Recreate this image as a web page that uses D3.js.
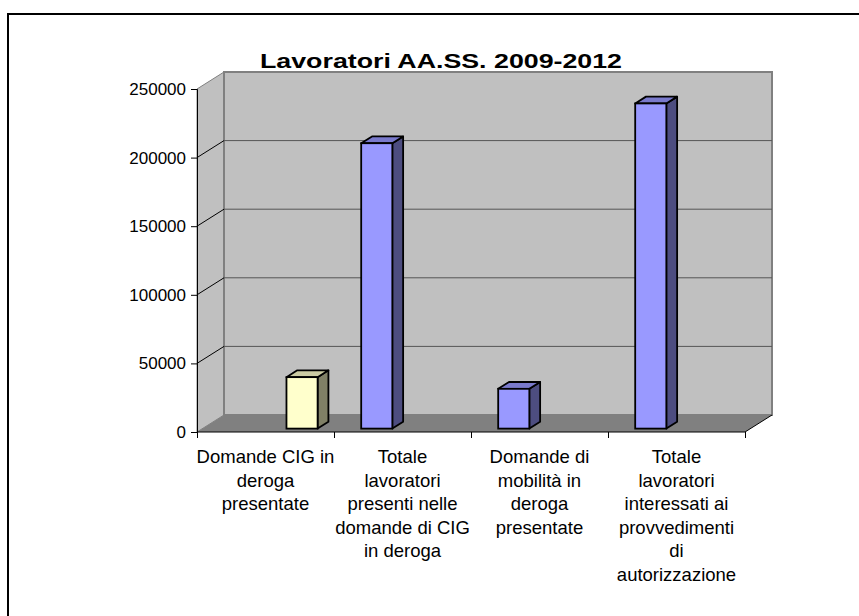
<!DOCTYPE html>
<html>
<head>
<meta charset="utf-8">
<script src="https://cdn.jsdelivr.net/npm/d3@7"></script>
<style>
  body { margin: 0; background: #fff; }
  text { font-family: "Liberation Sans", Arial, sans-serif; }
</style>
</head>
<body>
<div id="chart"></div>
<script>
// chart data
var categories = ["cig", "totCig", "mob", "totAut"];
var catLabels = [
    ["Domande CIG in", "deroga", "presentate"],
    ["Totale", "lavoratori", "presenti nelle", "domande di CIG", "in deroga"],
    ["Domande di", "mobilità in", "deroga", "presentate"],
    ["Totale", "lavoratori", "interessati ai", "provvedimenti", "di", "autorizzazione"]
];
var seriesNames = ["blu", "giallo"];
var bluValues = [null, 208000, 29000, 237000];
var gialloValues = [37500, null, null, null];
var yTicks = [0, 50000, 100000, 150000, 200000, 250000];
var title = "Lavoratori AA.SS. 2009-2012";

var svgWidth = 859, svgHeight = 616;

// 3d look: how far the back wall sits from the front
var depth = { dx: 27, dy: -17 };
var plot = { left: 197, right: 745, top: 89, bottom: 432 };

var svg = d3.select("#chart")
    .append("svg")
    .attr("width", svgWidth)
    .attr("height", svgHeight);

// outer frame (only top and left show in the picture)
svg.append("rect")
    .attr("x", 8).attr("y", 14)
    .attr("width", 900).attr("height", 700)
    .attr("fill", "none")
    .attr("stroke", "#000")
    .attr("stroke-width", 2);

var xScale = d3.scaleBand()
    .domain(categories)
    .range([plot.left, plot.right]);

var inner = d3.scaleBand()
    .domain(seriesNames)
    .range([0, xScale.bandwidth()])
    .paddingInner(0.5)
    .paddingOuter(0.35);

var yScale = d3.scaleLinear()
    .domain([0, 250000])
    .range([plot.bottom, plot.top]);

var y0 = yScale(0), yTop = yScale(250000);

// left wall
svg.append("polygon")
    .attr("points", [[plot.left, y0], [plot.left, yTop], [plot.left + depth.dx, yTop + depth.dy], [plot.left + depth.dx, y0 + depth.dy]].join(" "))
    .attr("fill", "#c0c0c0")
    .attr("stroke", "#808080")
    .attr("stroke-width", 1);

// back wall
svg.append("rect")
    .attr("x", plot.left + depth.dx)
    .attr("y", yTop + depth.dy)
    .attr("width", plot.right - plot.left)
    .attr("height", y0 - yTop)
    .attr("fill", "#c0c0c0")
    .attr("stroke", "#808080")
    .attr("stroke-width", 2);

// floor
svg.append("polygon")
    .attr("points", [[plot.left, y0], [plot.right, y0], [plot.right + depth.dx, y0 + depth.dy], [plot.left + depth.dx, y0 + depth.dy]].join(" "))
    .attr("fill", "#808080");

// gridlines on back wall and left wall
var grid = yTicks.filter(function(t) { return t > 0 && t < 250000; });
svg.selectAll(".gridBack")
    .data(grid)
    .enter().append("line")
    .attr("x1", plot.left + depth.dx)
    .attr("x2", plot.right + depth.dx)
    .attr("y1", function(d) { return yScale(d) + depth.dy; })
    .attr("y2", function(d) { return yScale(d) + depth.dy; })
    .attr("stroke", "#555")
    .attr("stroke-width", 1);

svg.selectAll(".gridSide")
    .data(grid)
    .enter().append("line")
    .attr("x1", plot.left)
    .attr("x2", plot.left + depth.dx)
    .attr("y1", function(d) { return yScale(d); })
    .attr("y2", function(d) { return yScale(d) + depth.dy; })
    .attr("stroke", "#000")
    .attr("stroke-width", 1);

// bars
var f0 = 0.2, f1 = 0.6;
var colors = {
    blu: { front: "#9999ff", side: "#4d4d80", top: "#7a7acc" },
    giallo: { front: "#ffffcc", side: "#808066", top: "#cccca3" }
};

var bars = [];
categories.forEach(function(c, i) {
    if (bluValues[i] != null) bars.push({ cat: c, s: "blu", v: bluValues[i] });
    if (gialloValues[i] != null) bars.push({ cat: c, s: "giallo", v: gialloValues[i] });
});

var ax = depth.dx * f0, ay = depth.dy * f0;
var bx = depth.dx * f1, by = depth.dy * f1;

var barG = svg.selectAll(".bar")
    .data(bars)
    .enter().append("g")
    .attr("class", "bar");

barG.each(function(d) {
    var g = d3.select(this);
    var x0 = xScale(d.cat) + inner(d.s);
    var x1 = x0 + inner.bandwidth();
    var yv = yScale(d.v);
    var col = colors[d.s];
    g.append("polygon")
        .attr("points", [[x1 + ax, yv + ay], [x1 + bx, yv + by], [x1 + bx, y0 + by], [x1 + ax, y0 + ay]].join(" "))
        .attr("fill", col.side).attr("stroke", "#000").attr("stroke-width", 1.8).attr("stroke-linejoin", "round");
    g.append("polygon")
        .attr("points", [[x0 + ax, yv + ay], [x0 + bx, yv + by], [x1 + bx, yv + by], [x1 + ax, yv + ay]].join(" "))
        .attr("fill", col.top).attr("stroke", "#000").attr("stroke-width", 1.8).attr("stroke-linejoin", "round");
    g.append("rect")
        .attr("x", x0 + ax).attr("y", yv + ay)
        .attr("width", x1 - x0).attr("height", y0 - yv)
        .attr("fill", col.front).attr("stroke", "#000").attr("stroke-width", 1.8);
});

// y axis
var yAxis = d3.axisLeft(yScale).tickValues(yTicks).tickSize(6).tickPadding(5).tickFormat(d3.format("d"));
var yG = svg.append("g")
    .attr("transform", "translate(" + plot.left + ",0)")
    .call(yAxis);
yG.select(".domain").attr("stroke", "#000");
yG.selectAll("text").style("font-size", "17px").attr("fill", "#000");

// x axis
var xAxis = d3.axisBottom(d3.scaleLinear().domain([0, 4]).range([plot.left, plot.right]))
    .ticks(4).tickSize(6).tickFormat("");
var xG = svg.append("g")
    .attr("transform", "translate(0," + y0 + ")")
    .call(xAxis);
xG.select(".domain").attr("d", "M" + plot.left + ",0H" + plot.right).attr("stroke", "#000");

// right edge of floor
svg.append("line")
    .attr("x1", plot.right).attr("y1", y0)
    .attr("x2", plot.right + depth.dx).attr("y2", y0 + depth.dy)
    .attr("stroke", "#000").attr("stroke-width", 1);

// category labels
var labelG = svg.selectAll(".catLabel")
    .data(categories)
    .enter().append("text")
    .attr("class", "catLabel")
    .attr("text-anchor", "middle")
    .style("font-size", "18.5px")
    .attr("fill", "#000");

labelG.each(function(d, i) {
    var t = d3.select(this);
    catLabels[i].forEach(function(line, j) {
        t.append("tspan")
            .attr("x", xScale(d) + xScale.bandwidth() / 2)
            .attr("y", 463 + j * 23.5)
            .text(line);
    });
});

// title
svg.append("text")
    .attr("x", 441)
    .attr("y", 68)
    .attr("text-anchor", "middle")
    .attr("textLength", 362)
    .attr("lengthAdjust", "spacingAndGlyphs")
    .style("font-size", "21px")
    .style("font-weight", "bold")
    .text(title);
</script>
</body>
</html>
